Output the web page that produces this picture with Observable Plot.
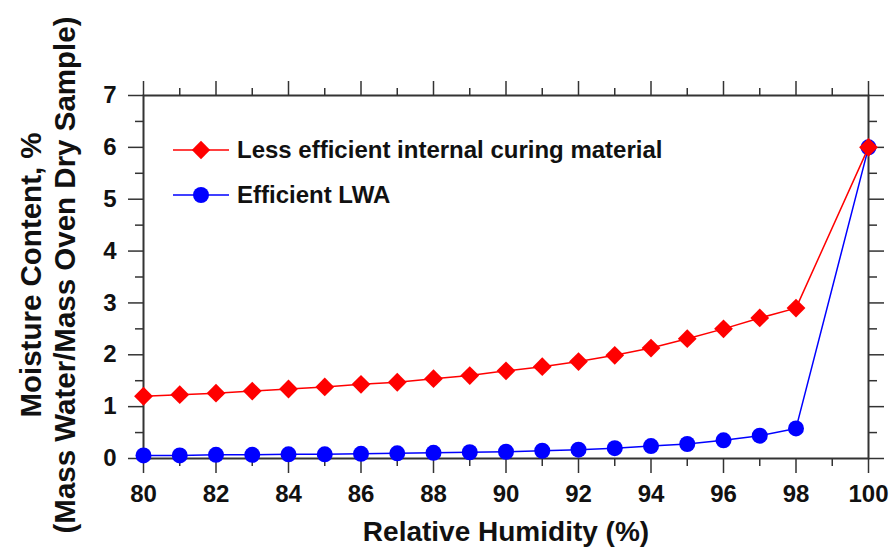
<!DOCTYPE html>
<html>
<head>
<meta charset="utf-8">
<script src="https://cdn.jsdelivr.net/npm/d3@7"></script>
<script src="https://cdn.jsdelivr.net/npm/@observablehq/plot@0.6"></script>
<style>
  html, body { margin: 0; padding: 0; background: #fff; }
  #chart svg { display: block; }
</style>
</head>
<body>
<div id="chart"></div>
<script>
// ---- data ----
const humidity = [80, 81, 82, 83, 84, 85, 86, 87, 88, 89, 90, 91, 92, 93, 94, 95, 96, 97, 98, 100];
const lessEfficient = [1.20, 1.23, 1.26, 1.30, 1.34, 1.38, 1.43, 1.47, 1.54, 1.60, 1.69, 1.77, 1.87, 1.99, 2.13, 2.31, 2.50, 2.71, 2.90, 6.00];
const efficientLWA = [0.06, 0.06, 0.07, 0.07, 0.08, 0.08, 0.09, 0.10, 0.11, 0.12, 0.13, 0.15, 0.17, 0.20, 0.24, 0.28, 0.35, 0.44, 0.58, 6.00];
const seriesNames = ["Less efficient internal curing material", "Efficient LWA"];
const seriesColors = ["#ff0000", "#0000ff"];
const xMajorTicks = [80, 82, 84, 86, 88, 90, 92, 94, 96, 98, 100];
const xMinorTicks = [81, 83, 85, 87, 89, 91, 93, 95, 97, 99];
const yMajorTicks = [0, 1, 2, 3, 4, 5, 6, 7];
const yMinorTicks = [0.5, 1.5, 2.5, 3.5, 4.5, 5.5, 6.5];
const xTitle = "Relative Humidity (%)";
const yTitle1 = "Moisture Content, %";
const yTitle2 = "(Mass Water/Mass Oven Dry Sample)";

const red = humidity.map((x, i) => ({x, y: lessEfficient[i]}));
const blue = humidity.map((x, i) => ({x, y: efficientLWA[i]}));

const FONT = "'Liberation Sans', Arial, Helvetica, sans-serif";
const axisColor = "#333";

function legend(index, scales, values, dimensions) {
  const g = d3.create("svg:g").attr("text-anchor", "start");
  const x0 = dimensions.marginLeft;
  const y0 = dimensions.marginTop;
  const items = [
    {name: seriesNames[0], color: seriesColors[0], symbol: "diamond", dy: 55},
    {name: seriesNames[1], color: seriesColors[1], symbol: "circle", dy: 100}
  ];
  for (const it of items) {
    const yy = y0 + it.dy;
    g.append("line").attr("x1", x0 + 30).attr("x2", x0 + 86).attr("y1", yy).attr("y2", yy)
      .attr("stroke", it.color).attr("stroke-width", 1.5);
    if (it.symbol === "circle") {
      g.append("circle").attr("cx", x0 + 58).attr("cy", yy).attr("r", 8).attr("fill", it.color);
    } else {
      g.append("rect").attr("x", -6.5).attr("y", -6.5).attr("width", 13).attr("height", 13)
        .attr("fill", it.color).attr("transform", `translate(${x0 + 58},${yy}) rotate(45)`);
    }
    g.append("text").attr("x", x0 + 94).attr("y", yy).attr("dy", "0.35em")
      .attr("text-anchor", "start")
      .attr("font-family", FONT).attr("font-weight", "bold").attr("font-size", 24)
      .attr("fill", "#111").text(it.name);
  }
  return g.node();
}

const chart = Plot.plot({
  width: 894,
  height: 556,
  marginLeft: 143,
  marginRight: 26,
  marginTop: 95,
  marginBottom: 98,
  style: {fontFamily: FONT, background: "#fff", color: "#111"},
  x: {domain: [80, 100]},
  y: {domain: [0, 7]},
  marks: [
    // bottom axis
    Plot.axisX({anchor: "bottom", ticks: xMajorTicks, tickSize: 15, tickPadding: 11, tickFormat: "d", fontSize: 24, fontWeight: "bold", label: null, stroke: axisColor, strokeWidth: 1.5}),
    Plot.axisX({anchor: "bottom", ticks: xMinorTicks, tickSize: 8, tickFormat: () => "", label: null, stroke: axisColor, strokeWidth: 1.5}),
    // top axis
    Plot.axisX({anchor: "top", ticks: xMajorTicks, tickSize: 15, tickFormat: () => "", label: null, stroke: axisColor, strokeWidth: 1.5}),
    Plot.axisX({anchor: "top", ticks: xMinorTicks, tickSize: 8, tickFormat: () => "", label: null, stroke: axisColor, strokeWidth: 1.5}),
    // left axis
    Plot.axisY({anchor: "left", ticks: yMajorTicks, tickSize: 15, tickPadding: 12, tickFormat: "d", fontSize: 24, fontWeight: "bold", label: null, stroke: axisColor, strokeWidth: 1.5}),
    Plot.axisY({anchor: "left", ticks: yMinorTicks, tickSize: 8, tickFormat: () => "", label: null, stroke: axisColor, strokeWidth: 1.5}),
    // right axis
    Plot.axisY({anchor: "right", ticks: yMajorTicks, tickSize: 15, tickFormat: () => "", label: null, stroke: axisColor, strokeWidth: 1.5}),
    Plot.axisY({anchor: "right", ticks: yMinorTicks, tickSize: 8, tickFormat: () => "", label: null, stroke: axisColor, strokeWidth: 1.5}),
    Plot.frame({stroke: axisColor, strokeWidth: 2}),
    // axis titles
    Plot.text([xTitle], {frameAnchor: "bottom", text: d => d, dy: 82, fontSize: 28, fontWeight: "bold", fill: "#111"}),
    Plot.text([yTitle1], {frameAnchor: "left", text: d => d, rotate: -90, textAnchor: "middle", dx: -112, dy: -2, fontSize: 29.5, fontWeight: "bold", fill: "#111"}),
    Plot.text([yTitle2], {frameAnchor: "left", text: d => d, rotate: -90, textAnchor: "middle", dx: -78, dy: -2, fontSize: 29.5, fontWeight: "bold", fill: "#111"}),
    // data
    Plot.line(blue, {x: "x", y: "y", stroke: seriesColors[1], strokeWidth: 1.5}),
    Plot.dot(blue, {x: "x", y: "y", r: 8, fill: seriesColors[1], symbol: "circle"}),
    Plot.line(red, {x: "x", y: "y", stroke: seriesColors[0], strokeWidth: 1.5}),
    Plot.dot(red, {x: "x", y: "y", r: 7.5, fill: seriesColors[0], symbol: "square", rotate: 45}),
    legend
  ]
});
document.getElementById("chart").appendChild(chart);
</script>
</body>
</html>
